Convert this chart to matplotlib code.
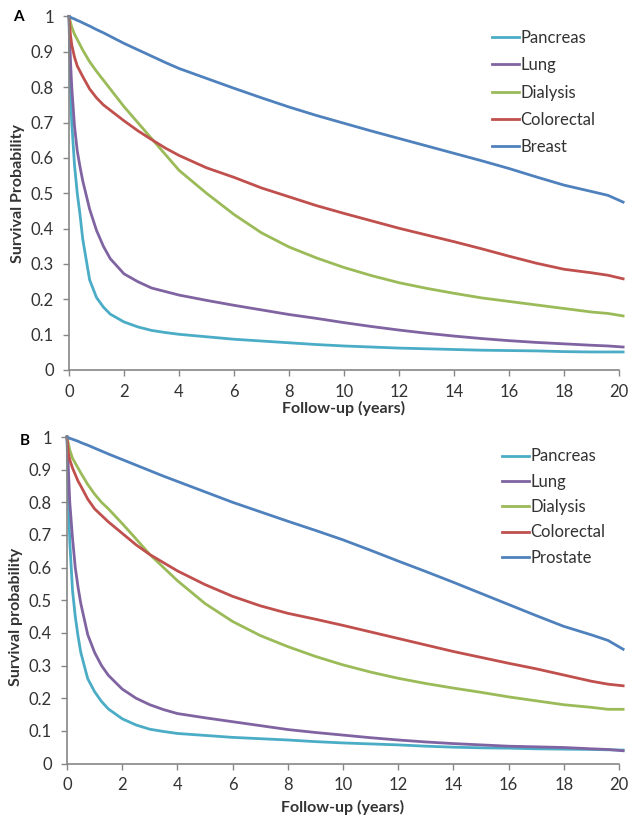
import numpy as np
import matplotlib
matplotlib.use("Agg")
import matplotlib.pyplot as plt

plt.rcParams['font.family'] = ['Lato', 'DejaVu Sans']

# follow-up time grid (years), shared by all curves
years = [0, 0.05, 0.1, 0.2, 0.3, 0.4, 0.5, 0.75, 1, 1.25, 1.5, 2, 2.5, 3, 3.5, 4,
         5, 6, 7, 8, 9, 10, 11, 12, 13, 14, 15, 16, 17, 18, 19, 19.6, 20.15]

# panel A
a_pancreas = [1, 0.80, 0.70, 0.58, 0.50, 0.44, 0.37, 0.255, 0.205, 0.178, 0.158, 0.136,
              0.122, 0.112, 0.106, 0.101, 0.094, 0.087, 0.082, 0.077, 0.072, 0.068, 0.065,
              0.062, 0.060, 0.058, 0.056, 0.055, 0.054, 0.052, 0.051, 0.051, 0.051]
a_lung = [1, 0.88, 0.80, 0.69, 0.62, 0.575, 0.535, 0.455, 0.395, 0.35, 0.315, 0.272,
          0.25, 0.232, 0.222, 0.212, 0.197, 0.183, 0.17, 0.157, 0.146, 0.134, 0.123,
          0.113, 0.104, 0.096, 0.089, 0.083, 0.078, 0.074, 0.070, 0.068, 0.065]
a_dialysis = [1, 0.985, 0.97, 0.95, 0.935, 0.92, 0.905, 0.872, 0.845, 0.82, 0.795, 0.745,
              0.70, 0.655, 0.61, 0.565, 0.50, 0.44, 0.388, 0.348, 0.317, 0.29, 0.267,
              0.247, 0.231, 0.217, 0.204, 0.194, 0.184, 0.174, 0.164, 0.16, 0.153]
a_colorectal = [1, 0.95, 0.92, 0.885, 0.86, 0.845, 0.83, 0.795, 0.77, 0.75, 0.735, 0.705,
                0.677, 0.652, 0.628, 0.607, 0.572, 0.545, 0.515, 0.49, 0.465, 0.443, 0.422,
                0.401, 0.382, 0.363, 0.343, 0.322, 0.302, 0.285, 0.275, 0.268, 0.258]
a_breast = [1, 0.998, 0.996, 0.993, 0.989, 0.986, 0.982, 0.973, 0.963, 0.954, 0.944, 0.924,
            0.906, 0.888, 0.87, 0.853, 0.825, 0.797, 0.77, 0.744, 0.72, 0.698, 0.676,
            0.655, 0.634, 0.613, 0.592, 0.57, 0.546, 0.523, 0.505, 0.494, 0.475]

# panel B
b_pancreas = [1, 0.82, 0.68, 0.53, 0.45, 0.39, 0.34, 0.26, 0.22, 0.19, 0.167, 0.137,
              0.118, 0.105, 0.098, 0.092, 0.086, 0.080, 0.076, 0.072, 0.067, 0.063, 0.060,
              0.057, 0.053, 0.050, 0.048, 0.047, 0.045, 0.044, 0.043, 0.042, 0.041]
b_lung = [1, 0.90, 0.80, 0.69, 0.60, 0.54, 0.49, 0.395, 0.34, 0.30, 0.27, 0.228,
          0.20, 0.18, 0.165, 0.153, 0.14, 0.128, 0.116, 0.104, 0.095, 0.087, 0.079,
          0.072, 0.066, 0.061, 0.057, 0.053, 0.051, 0.049, 0.045, 0.043, 0.039]
b_dialysis = [1, 0.98, 0.96, 0.935, 0.92, 0.905, 0.89, 0.855, 0.825, 0.80, 0.78, 0.735,
              0.688, 0.64, 0.60, 0.56, 0.49, 0.435, 0.392, 0.358, 0.328, 0.302, 0.28,
              0.261, 0.245, 0.231, 0.218, 0.204, 0.192, 0.18, 0.172, 0.166, 0.166]
b_colorectal = [1, 0.95, 0.93, 0.905, 0.885, 0.865, 0.85, 0.81, 0.78, 0.76, 0.74, 0.705,
                0.67, 0.64, 0.615, 0.59, 0.548, 0.512, 0.483, 0.46, 0.442, 0.423, 0.403,
                0.383, 0.363, 0.343, 0.325, 0.307, 0.29, 0.271, 0.252, 0.243, 0.238]
b_prostate = [1, 0.998, 0.996, 0.993, 0.99, 0.987, 0.983, 0.975, 0.966, 0.957, 0.948, 0.931,
              0.914, 0.897, 0.88, 0.864, 0.832, 0.80, 0.771, 0.742, 0.714, 0.685, 0.653,
              0.62, 0.588, 0.555, 0.521, 0.487, 0.453, 0.42, 0.394, 0.377, 0.35]

labels_a = ['Pancreas', 'Lung', 'Dialysis', 'Colorectal', 'Breast']
labels_b = ['Pancreas', 'Lung', 'Dialysis', 'Colorectal', 'Prostate']
colors = ['#4BACC6', '#8064A2', '#9BBB59', '#C0504D', '#4F81BD']

xticks = list(range(0, 21, 2))
yticks = [i / 10 for i in range(11)]
ytick_labels = ['0', '0.1', '0.2', '0.3', '0.4', '0.5', '0.6', '0.7', '0.8', '0.9', '1']

GRAY = '#868686'
TXT = '#333333'
W, H = 629, 819


def draw_panel(ax, series, labels, ylabel, ylab_y, leg_xy, leg_space):
    for s, lab, c in zip(series, labels, colors):
        ax.plot(years, s, color=c, lw=2.0, label=lab, clip_on=False, solid_joinstyle='round')
    ax.set_xlim(0, 20)
    ax.set_ylim(0, 1)
    ax.set_xticks(xticks)
    ax.set_yticks(yticks)
    ax.set_yticklabels(ytick_labels)
    for side in ['top', 'right']:
        ax.spines[side].set_visible(False)
    for side in ['left', 'bottom']:
        ax.spines[side].set_color(GRAY)
        ax.spines[side].set_linewidth(1.2)
    ax.tick_params(axis='both', colors=GRAY, labelcolor=TXT, labelsize=12,
                   length=4, width=1)
    ax.tick_params(axis='x', pad=6)
    ax.tick_params(axis='y', pad=7)
    ax.set_ylabel(ylabel, fontsize=11.5, fontweight='bold', color=TXT)
    ax.yaxis.set_label_coords(-0.08, ylab_y)
    ax.set_xlabel('Follow-up (years)', fontsize=11.5, fontweight='bold', color=TXT)
    leg = ax.legend(loc='upper left', bbox_to_anchor=leg_xy, frameon=False, fontsize=12,
                    borderaxespad=0, borderpad=0, handlelength=1.6, handletextpad=0.1,
                    labelspacing=leg_space)
    for t in leg.get_texts():
        t.set_color(TXT)


fig = plt.figure(figsize=(W / 100, H / 100), dpi=100)

ax_a = fig.add_axes([69 / W, 1 - 370 / H, 550 / W, 353.5 / H])
draw_panel(ax_a, [a_pancreas, a_lung, a_dialysis, a_colorectal, a_breast], labels_a,
           'Survival Probability', 0.5, (0.769, 0.962), 0.68)
ax_a.xaxis.set_label_coords(0.5, -0.088)

ax_b = fig.add_axes([67 / W, 1 - 763.5 / H, 552 / W, 326.5 / H])
draw_panel(ax_b, [b_pancreas, b_lung, b_dialysis, b_colorectal, b_prostate], labels_b,
           'Survival probability', 0.45, (0.788, 0.965), 0.56)
ax_b.xaxis.set_label_coords(0.5, -0.112)

fig.text(18 / W, 1 - 17 / H, 'A', fontsize=11, fontweight='bold', ha='center', va='center')
fig.text(25 / W, 1 - 441 / H, 'B', fontsize=11, fontweight='bold', ha='center', va='center')

fig.savefig('out.png', dpi=100)
